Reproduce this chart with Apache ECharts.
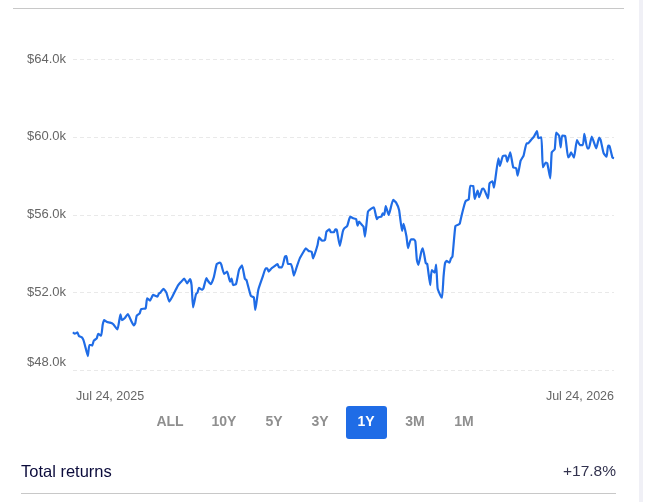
<!DOCTYPE html>
<html>
<head>
<meta charset="utf-8">
<title>Total returns</title>
<script src="https://cdn.jsdelivr.net/npm/echarts@6/dist/echarts.min.js"></script>
<style>
  html, body { margin: 0; padding: 0; background: #fff; }
  #chart { width: 648px; height: 502px; }
</style>
</head>
<body>
<div id="chart"></div>
<script>
// days since Jul 24, 2025
var days = [0,1,2,3,4,6,7,8,10,11,12,13,14,16,17,19,20,21,23,25,27,30,32,33,35,37,39,41,42,43,45,46,49,50,52,54,57,58,59,61,63,65,67,69,71,73,75,77,79,80,81,83,84,85,87,88,90,91,93,95,97,99,100,102,104,106,107,108,110,112,114,116,117,120,122,123,125,128,130,131,132,134,137,138,139,141,143,144,145,147,148,149,151,153,156,157,159,161,162,165,166,168,170,171,173,174,176,177,178,180,182,183,185,187,189,191,192,193,195,196,197,199,201,203,205,206,208,209,210,211,213,216,218,220,222,223,225,226,228,230,231,232,233,235,236,238,239,241,242,244,245,246,248,249,250,251,252,254,255,256,258,260,261,262,264,265,267,268,270,271,273,274,276,277,280,281,283,284,285,287,288,290,292,293,295,297,299,300,302,304,306,307,309,311,313,314,316,317,319,320,322,323,325,326,328,329,330,332,334,335,336,338,340,342,344,345,347,348,350,353,355,356,358,360,361,362,364,365];
// portfolio value in $k
var values = [49.96,49.89,49.91,49.96,49.77,49.70,49.57,49.31,48.74,49.31,49.31,49.28,49.53,49.65,49.88,49.79,50.34,50.59,50.49,50.46,50.39,50.11,50.89,50.59,50.70,50.90,50.59,50.32,50.42,50.82,50.94,51.16,51.19,51.71,51.59,51.88,51.79,51.96,52.00,52.20,52.00,51.54,51.79,52.10,52.39,52.56,52.72,52.48,52.70,52.39,51.24,51.93,52.00,52.24,52.15,52.22,52.75,52.61,52.44,52.79,53.47,53.54,53.45,52.96,53.08,52.56,52.72,52.39,52.44,53.16,53.40,52.70,52.65,51.83,51.76,51.11,52.14,52.82,53.25,53.25,53.08,53.25,53.42,53.47,53.30,53.30,53.85,53.88,53.47,53.47,53.25,52.87,53.33,53.76,54.16,54.28,54.14,54.10,53.76,54.45,54.84,54.67,54.70,55.13,55.25,55.10,55.10,55.25,55.22,54.40,55.13,55.30,55.42,55.90,55.82,55.78,55.44,55.65,55.47,55.39,54.88,56.16,56.30,56.38,55.77,55.87,55.90,56.07,55.99,56.45,55.99,56.76,56.62,56.24,55.17,55.53,54.88,54.29,54.74,54.74,54.62,53.68,53.42,54.10,54.28,53.51,53.47,52.39,53.16,53.03,53.44,52.22,51.84,51.74,52.82,53.51,53.63,53.54,53.76,53.85,55.42,55.49,55.56,55.90,56.50,56.71,56.79,57.49,57.48,56.81,57.24,56.90,57.32,57.34,56.84,57.61,57.72,57.39,57.87,58.90,58.51,59.02,59.04,58.73,59.21,58.44,58.39,58.01,58.78,59.04,59.67,59.67,59.84,60.01,60.30,59.93,59.98,58.44,58.68,58.64,57.87,59.21,59.36,60.22,60.05,59.46,60.06,60.05,58.95,59.02,59.21,58.93,59.84,59.58,59.58,60.15,59.41,59.41,60.01,59.41,59.96,59.84,59.16,58.98,59.55,59.53,58.93,58.90];
var dateLabels = ['Jul 24, 2025', 'Jul 24, 2026'];
var ranges = ['ALL', '10Y', '5Y', '3Y', '1Y', '3M', '1M'];
var rangeCenters = [170, 224, 274, 320, 366, 415, 464];
var activeRange = '1Y';
var summaryLabel = 'Total returns';
var summaryValue = '+17.8%';

var myChart = echarts.init(document.getElementById('chart'), null, { renderer: 'canvas' });
var fontName = '"Liberation Sans", Roboto, sans-serif';
var blue = '#1f6ce6';

// range buttons, summary row and rules
var graphics = [
  { type: 'rect', shape: { x: 13, y: 8, width: 611, height: 1 }, style: { fill: '#c8c8c8' } },
  { type: 'rect', shape: { x: 21, y: 493, width: 595, height: 1 }, style: { fill: '#c8c8c8' } },
  { type: 'rect', shape: { x: 639, y: 0, width: 4, height: 502 }, style: { fill: '#f0f0f6' } },
  { type: 'rect', shape: { x: 346, y: 406, width: 41, height: 33, r: 3 }, style: { fill: blue } },
  { type: 'text', style: { x: 21, y: 472, text: summaryLabel, fill: '#0b0b3b', font: '16.5px ' + fontName, textAlign: 'left', textVerticalAlign: 'middle' } },
  { type: 'text', style: { x: 616, y: 472, text: summaryValue, fill: '#33334f', font: '15.5px ' + fontName, textAlign: 'right', textVerticalAlign: 'middle' } }
];
ranges.forEach(function (r, i) {
  graphics.push({
    type: 'text',
    style: {
      x: rangeCenters[i], y: 422, text: r,
      fill: r === activeRange ? '#fff' : '#8f8f8f',
      font: 'bold 14px ' + fontName,
      textAlign: 'center', textVerticalAlign: 'middle'
    }
  });
});

var option = {
  animation: false,
  backgroundColor: '#fff',
  grid: { left: 73, right: 34, top: 59, bottom: 131.5 },
  xAxis: {
    type: 'value',
    min: 0,
    max: 365,
    interval: 365,
    splitLine: { show: false },
    axisLine: { show: false },
    axisTick: { show: false },
    axisLabel: {
      color: '#666',
      fontFamily: fontName,
      fontSize: 12.5,
      margin: 20,
      padding: [0, 0, 0, 3],
      alignMinLabel: 'left',
      alignMaxLabel: 'right',
      formatter: function (val) {
        return val === 0 ? dateLabels[0] : dateLabels[1];
      }
    }
  },
  yAxis: {
    type: 'value',
    min: 48,
    max: 64,
    interval: 4,
    axisLine: { show: false },
    axisTick: { show: false },
    splitLine: { lineStyle: { color: '#e9e9e9', type: [4, 3], width: 1 } },
    axisLabel: {
      color: '#666',
      fontFamily: fontName,
      fontSize: 13,
      margin: 7,
      verticalAlignMinLabel: 'bottom',
      padding: [0, 0, 2, 0],
      formatter: function (val) {
        return '$' + val.toFixed(1) + 'k';
      }
    }
  },
  series: [
    {
      type: 'line',
      showSymbol: false,
      smooth: 0.15,
      lineStyle: { color: blue, width: 2.2 },
      data: days.map(function (d, i) { return [d, values[i]]; })
    }
  ],
  graphic: graphics
};
myChart.setOption(option);
</script>
</body>
</html>
